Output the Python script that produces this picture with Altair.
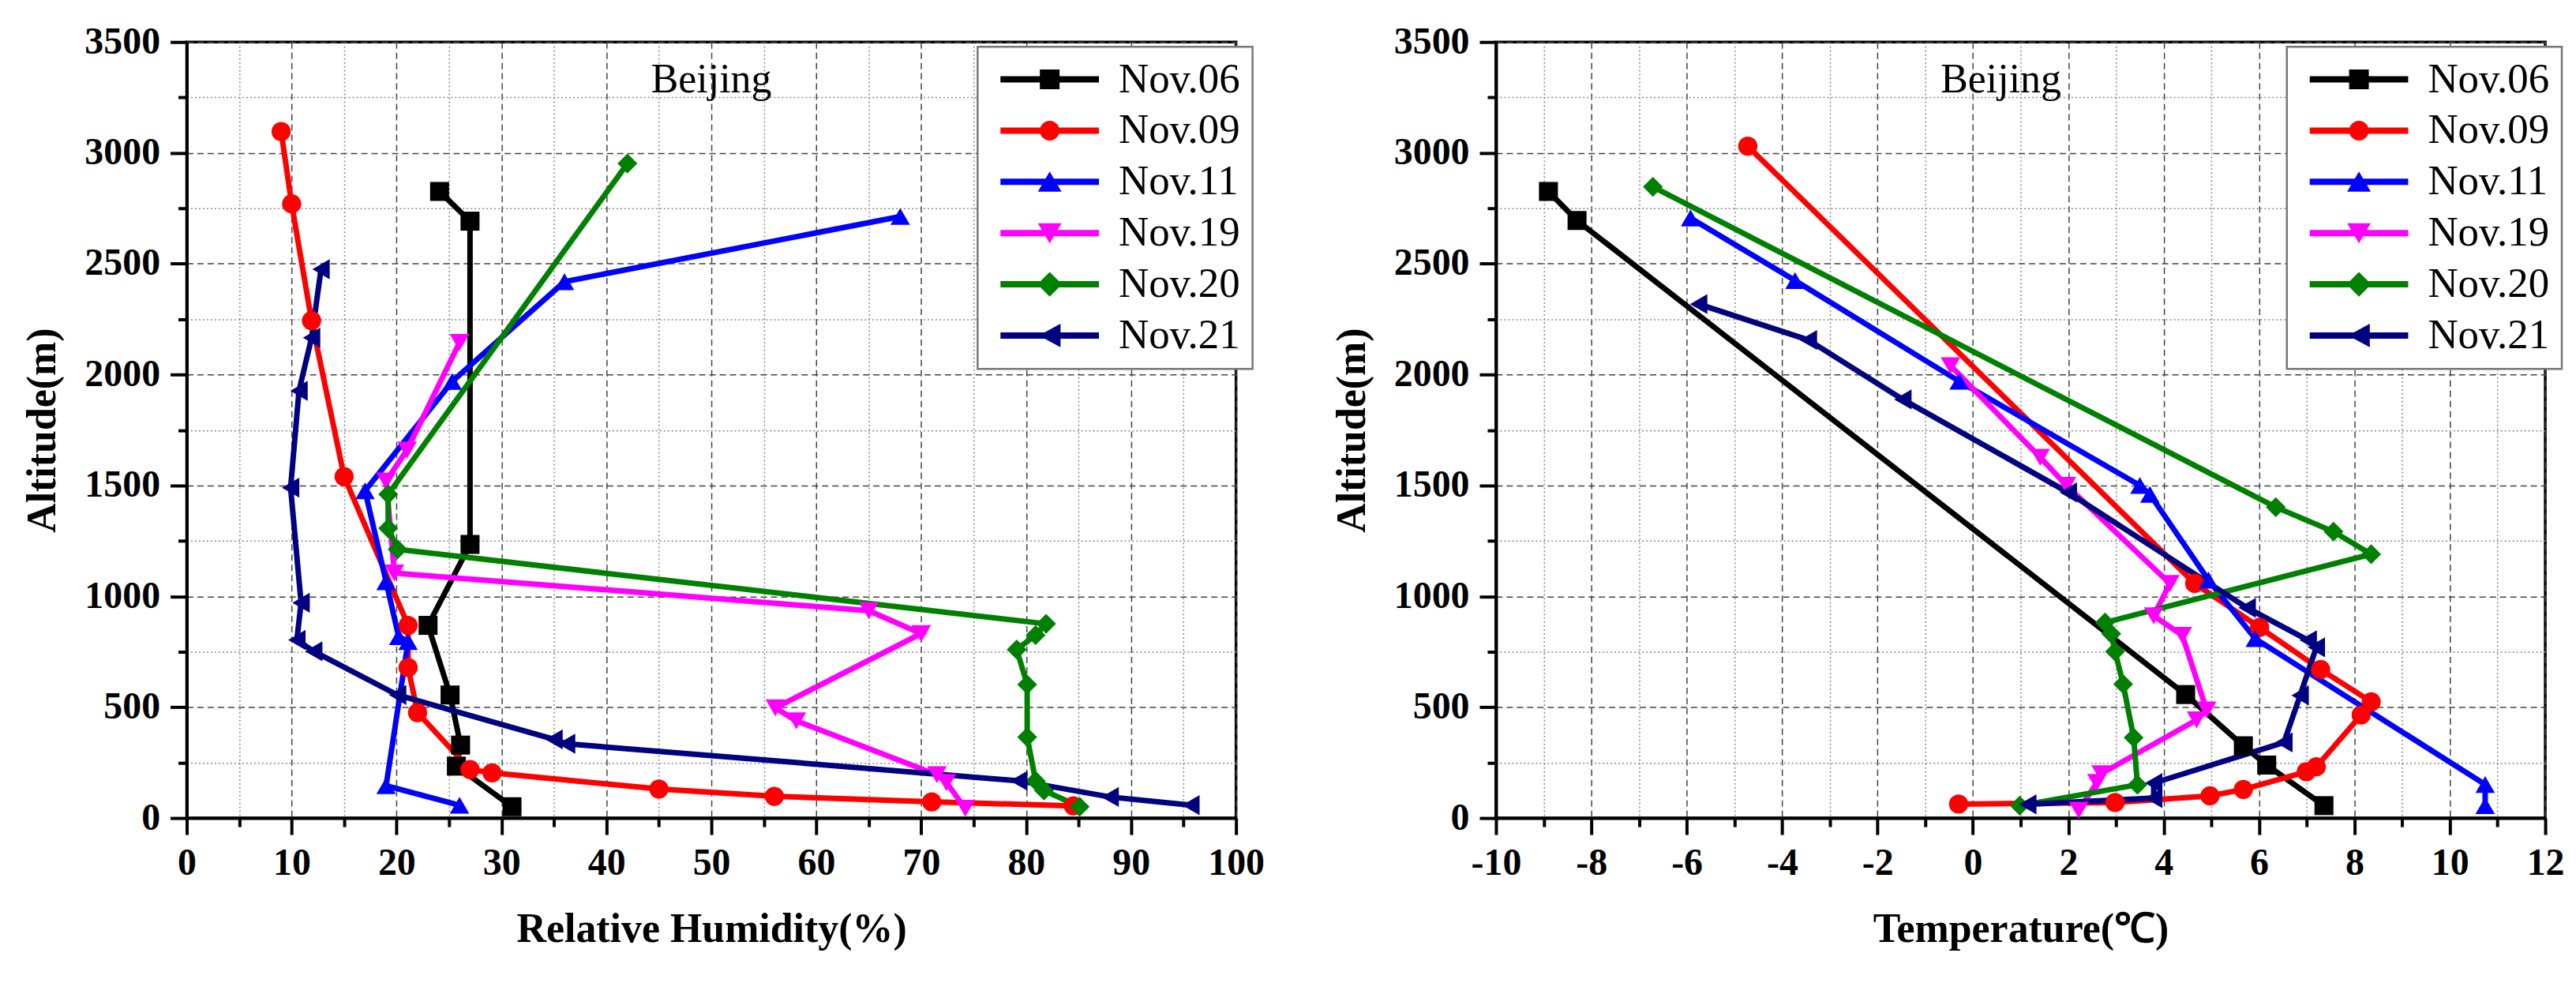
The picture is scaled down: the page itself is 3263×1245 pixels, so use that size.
import altair as alt
import pandas as pd

# Series
DATES = ["Nov.06", "Nov.09", "Nov.11", "Nov.19", "Nov.20", "Nov.21"]
COLORS = ["#000000", "#ff0000", "#0000ff", "#ff00ff", "#008000", "#000080"]
SHAPES = ["square", "circle", "triangle-up", "triangle-down", "diamond", "triangle-left"]
MARKER_SIZES = [580, 650, 900, 900, 900, 900]

# Relative humidity (%) against altitude (m)
rh_nov06 = [24.1, 27.0, 27.0, 23.0, 25.1, 26.1, 25.7, 31.0]
rh_alt_nov06 = [2826, 2692, 1234, 869, 555, 329, 234, 51]
rh_nov09 = [9.0, 10.0, 11.9, 15.0, 21.1, 21.1, 22.0, 27.0, 29.1, 45.0, 56.0, 71.0, 84.5]
rh_alt_nov09 = [3096, 2770, 2243, 1540, 869, 679, 475, 219, 204, 131, 98, 73, 55]
rh_nov11 = [68.0, 36.0, 25.3, 17.0, 19.0, 20.2, 21.1, 19.0, 26.0]
rh_alt_nov11 = [2713, 2419, 1969, 1476, 1066, 818, 796, 146, 58]
rh_nov19 = [26.0, 21.0, 19.0, 19.8, 65.0, 70.0, 56.1, 58.1, 71.5, 72.4, 74.2]
rh_alt_nov19 = [2145, 1660, 1520, 1105, 935, 832, 497, 438, 195, 160, 44]
rh_nov20 = [42.0, 19.2, 19.2, 20.1, 81.9, 80.9, 79.1, 80.1, 80.1, 80.9, 81.7, 85.1]
rh_alt_nov20 = [2952, 1460, 1307, 1212, 876, 825, 760, 602, 365, 168, 124, 51]
rh_nov21 = [12.8, 11.9, 10.7, 9.9, 10.9, 10.5, 12.1, 20.1, 35.0, 36.2, 79.3, 88.0, 95.7]
rh_alt_nov21 = [2475, 2166, 1927, 1490, 971, 803, 752, 555, 355, 335, 168, 95, 58]

# Temperature (C) against altitude (m)
t_nov06 = [-8.9, -8.3, 4.46, 5.67, 6.16, 7.36]
t_alt_nov06 = [2826, 2695, 557, 326, 239, 56]
t_nov09 = [-4.72, 4.65, 6.01, 7.29, 8.35, 8.14, 7.2, 6.99, 5.67, 4.97, 2.98, -0.3]
t_alt_nov09 = [3030, 1058, 860, 670, 524, 465, 231, 209, 129, 100, 70, 63]
t_nov11 = [-5.92, -3.73, -0.29, 3.5, 3.71, 4.94, 5.92, 10.74, 10.74]
t_alt_nov11 = [2706, 2424, 1970, 1500, 1460, 1073, 809, 151, 56]
t_nov19 = [-0.47, 1.41, 1.96, 4.13, 3.79, 4.39, 4.9, 4.69, 2.69, 2.6, 2.22]
t_alt_nov19 = [2040, 1627, 1500, 1058, 912, 824, 487, 443, 200, 160, 35]
t_nov20 = [-6.71, 6.35, 7.56, 8.35, 2.77, 2.9, 2.98, 3.15, 3.37, 3.45, 0.98]
t_alt_nov20 = [2847, 1402, 1292, 1190, 882, 831, 751, 604, 363, 150, 56]
t_nov21 = [-5.75, -3.45, -1.47, 2.0, 5.75, 7.03, 7.2, 6.86, 6.52, 3.79, 3.79, 1.15]
t_alt_nov21 = [2318, 2156, 1888, 1468, 948, 802, 770, 553, 341, 158, 90, 62]

# Legend glyphs: a bar for the line with the marker drawn on its middle
LEGEND_GLYPHS = [
    "M-1,-0.32H9V0.32H-1Z M3,-1H5V1H3Z",
    "M-1,-0.32H9V0.32H-1Z M3,0A1,1 0 1,1 5,0A1,1 0 1,1 3,0Z",
    "M-1,-0.32H9V0.32H-1Z M4,-1.05L5.2,1L2.8,1Z",
    "M-1,-0.32H9V0.32H-1Z M4,1.05L2.8,-1L5.2,-1Z",
    "M-1,-0.32H9V0.32H-1Z M2.75,0L4,-1.25L5.25,0L4,1.25Z",
    "M-1,-0.32H9V0.32H-1Z M2.9,0L5.1,-1.2L5.1,1.2Z",
]

FONT = "Liberation Serif"
W, H = 1332, 985


def build(series):
    rows = []
    for date, xs, ys in series:
        for i, (xv, yv) in enumerate(zip(xs, ys)):
            rows.append({"date": date, "x": xv, "alt": yv, "i": i})
    return pd.DataFrame(rows)


rh_df = build([
    ("Nov.06", rh_nov06, rh_alt_nov06), ("Nov.09", rh_nov09, rh_alt_nov09),
    ("Nov.11", rh_nov11, rh_alt_nov11), ("Nov.19", rh_nov19, rh_alt_nov19),
    ("Nov.20", rh_nov20, rh_alt_nov20), ("Nov.21", rh_nov21, rh_alt_nov21),
])
t_df = build([
    ("Nov.06", t_nov06, t_alt_nov06), ("Nov.09", t_nov09, t_alt_nov09),
    ("Nov.11", t_nov11, t_alt_nov11), ("Nov.19", t_nov19, t_alt_nov19),
    ("Nov.20", t_nov20, t_alt_nov20), ("Nov.21", t_nov21, t_alt_nov21),
])


def cond(test, major, minor):
    return {"condition": {"test": test, "value": major}, "value": minor}


def axis(title, values, step, **kw):
    test = f"datum.value % {step} === 0"
    return alt.Axis(
        title=title, values=values, grid=True,
        labelExpr=f"{test} ? '' + datum.value : ''",
        labelOverlap=False, labelFlush=False,
        tickSize=cond(test, 21, 11),
        gridDash=cond(test, [8, 5], [2, 3]),
        gridColor=cond(test, "#444444", "#8a8a8a"),
        **kw,
    )


def panel(df, x_title, x_domain, x_values, x_step, title_dx):
    x = alt.X("x:Q", scale=alt.Scale(domain=x_domain, nice=False, zero=False),
              axis=axis(x_title, x_values, x_step, labelPadding=13, titlePadding=34))
    y = alt.Y("alt:Q", scale=alt.Scale(domain=[0, 3500], nice=False),
              axis=axis("Altitude(m)", list(range(0, 3501, 250)), 500,
                        labelPadding=13, titlePadding=26))
    color_scale = alt.Scale(domain=DATES, range=COLORS)

    lines = alt.Chart(df).mark_line(strokeWidth=7).encode(
        x=x, y=y,
        color=alt.Color("date:N", scale=color_scale, legend=None),
        order="i:Q",
    )
    points = alt.Chart(df).mark_point(filled=True, opacity=1, strokeWidth=0).encode(
        x=x, y=y,
        color=alt.Color("date:N", scale=color_scale, legend=None),
        shape=alt.Shape("date:N", scale=alt.Scale(domain=DATES, range=SHAPES), legend=None),
        size=alt.Size("date:N", scale=alt.Scale(domain=DATES, range=MARKER_SIZES), legend=None),
    )
    leg = dict(
        title=None, orient="none", legendX=1004, legendY=6, padding=15,
        strokeColor="#777777", fillColor="white",
        symbolSize=625, symbolStrokeWidth=0, symbolOpacity=1,
        labelFont=FONT, labelFontSize=53, labelColor="black",
        labelOffset=111, labelLimit=400, rowPadding=11,
    )
    key = alt.Chart(df).mark_point(filled=True, opacity=0).encode(
        x=x, y=y,
        color=alt.Color("date:N", scale=color_scale, legend=alt.Legend(**leg)),
        shape=alt.Shape("date:N", scale=alt.Scale(domain=DATES, range=LEGEND_GLYPHS),
                        legend=alt.Legend(**leg)),
    )
    return (
        alt.layer(lines, points, key)
        .resolve_scale(color="independent", shape="independent")
        .properties(
            width=W, height=H,
            title=alt.Title("Beijing", anchor="middle", frame="group", offset=-140,
                            dx=title_dx, baseline="alphabetic", font=FONT,
                            fontSize=52, fontWeight="normal", color="black"),
        )
    )


left = panel(rh_df, "Relative Humidity(%)", [0, 100], list(range(0, 101, 5)), 10, 0)
right = panel(t_df, "Temperature(℃)", [-10, 12], list(range(-10, 13)), 2, -25)

chart = (
    alt.hconcat(left, right, spacing=81)
    .properties(padding={"left": 18, "top": 18, "right": 5, "bottom": 5})
    .configure_view(stroke="black", strokeWidth=3.5)
    .configure_legend(strokeWidth=2.5)
    .configure_axis(
        labelFont=FONT, labelFontSize=48, labelFontWeight="bold", labelColor="black",
        titleFont=FONT, titleFontSize=52, titleFontWeight="bold", titleColor="black",
        domainColor="black", domainWidth=4, tickColor="black", tickWidth=4,
        gridWidth=1.5,
    )
)

chart.save("out.html", embed_options={"renderer": "svg", "actions": False})
